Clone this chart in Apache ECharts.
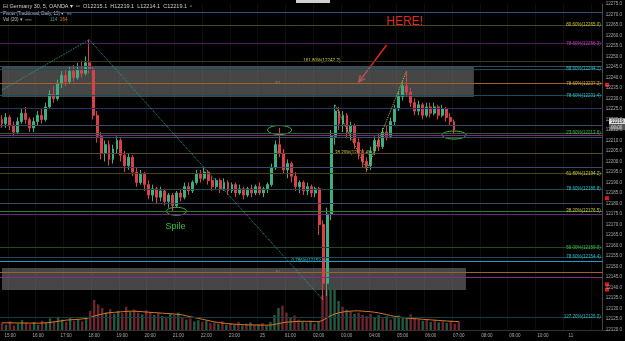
<!DOCTYPE html>
<html><head><meta charset="utf-8">
<script src="https://cdn.jsdelivr.net/npm/echarts@6/dist/echarts.min.js"></script>
<style>html,body{margin:0;padding:0;background:#000;}#c{width:625px;height:341px;}</style>
</head><body><div id="c"></div>
<script>
const opens =[12220,12218,12221,12217,12214,12219,12223,12220,12216,12219,12222,12220,12226,12232,12230,12237,12241,12238,12243,12240,12244,12242,12247,12244,12222,12212,12204,12208,12201,12206,12210,12203,12198,12202,12195,12190,12194,12189,12184,12187,12183,12186,12181,12184,12179,12185,12183,12188,12186,12190,12194,12192,12195,12191,12188,12191,12187,12190,12186,12189,12185,12187,12184,12187,12185,12188,12185,12187,12189,12197,12208,12204,12196,12199,12193,12188,12190,12186,12188,12185,12187,12170,12142,12175,12212,12224,12218,12222,12214,12217,12209,12204,12200,12198,12205,12210,12207,12214,12212,12219,12225,12231,12236,12233,12228,12224,12227,12222,12226,12223,12226,12222,12225,12221,12219];
const closes=[12218,12221,12217,12214,12219,12223,12220,12216,12219,12222,12220,12226,12232,12230,12237,12241,12238,12243,12240,12244,12242,12247,12244,12222,12212,12204,12208,12201,12206,12210,12203,12198,12202,12195,12190,12194,12189,12184,12187,12183,12186,12181,12184,12179,12185,12183,12188,12186,12190,12194,12192,12195,12191,12188,12191,12187,12190,12186,12189,12185,12187,12184,12187,12185,12188,12185,12187,12189,12197,12208,12204,12196,12199,12193,12188,12190,12186,12188,12185,12187,12170,12142,12175,12212,12224,12218,12222,12214,12217,12209,12204,12200,12198,12205,12210,12207,12214,12212,12219,12225,12231,12236,12233,12228,12224,12227,12222,12226,12223,12226,12222,12225,12221,12219,12215];
const lows  =[12216,12216,12215,12212,12213,12218,12218,12214,12214,12217,12218,12219,12225,12228,12229,12235,12236,12237,12238,12239,12240,12241,12242,12220,12209,12201,12200,12198,12199,12204,12200,12195,12196,12193,12188,12189,12186,12182,12181,12180,12181,12179,12178,12176,12178,12181,12182,12184,12185,12189,12190,12191,12189,12186,12187,12185,12186,12184,12185,12183,12184,12182,12183,12183,12184,12184,12183,12185,12188,12196,12202,12194,12192,12190,12186,12185,12184,12184,12183,12183,12165,12134,12136,12172,12208,12215,12214,12211,12210,12206,12201,12197,12195,12196,12203,12205,12206,12210,12211,12217,12224,12229,12231,12226,12222,12222,12220,12221,12221,12222,12220,12221,12219,12217,12213];
const highs =[12222,12223,12222,12219,12221,12225,12226,12221,12221,12224,12225,12228,12234,12236,12239,12243,12244,12245,12246,12247,12248,12250,12258,12245,12224,12214,12210,12210,12208,12212,12211,12205,12204,12203,12197,12196,12195,12191,12189,12188,12188,12187,12185,12185,12186,12187,12190,12190,12191,12196,12196,12197,12196,12193,12192,12192,12192,12191,12190,12190,12189,12188,12188,12189,12189,12190,12188,12190,12199,12210,12216,12206,12201,12200,12195,12191,12191,12190,12189,12188,12188,12172,12178,12215,12227,12226,12224,12223,12219,12218,12211,12206,12202,12207,12212,12213,12216,12217,12221,12227,12233,12238,12243,12235,12230,12229,12228,12228,12228,12228,12227,12227,12226,12223,12220];
const volumes=[120,90,150,80,110,170,130,100,140,90,160,120,200,150,230,180,140,210,160,190,150,230,330,520,440,380,300,360,280,330,290,400,320,350,300,270,340,310,260,290,240,230,280,260,300,210,180,200,150,170,140,160,120,130,110,150,90,120,100,140,80,110,130,90,100,120,80,140,260,380,420,300,220,250,180,150,130,160,110,140,600,950,800,700,500,400,350,320,280,300,260,240,280,220,260,200,240,180,210,250,230,200,270,220,180,160,190,140,170,130,150,120,160,110,140];
const volumeMA=[125,124,123,122,121,120,120,119,118,118,120,125,130,140,150,160,170,175,180,185,190,200,215,240,260,275,290,300,305,310,315,320,325,325,320,315,310,305,300,295,290,285,280,275,270,260,245,230,215,200,185,170,155,140,130,120,112,105,100,95,92,90,88,86,85,84,84,85,95,110,125,135,140,145,148,150,150,148,145,142,165,205,245,275,295,310,320,325,330,330,325,320,315,305,295,280,265,250,235,225,215,205,200,195,190,185,180,175,170,165,160,155,150,148,145];
const tickLabels=['15:00','16:00','17:00','18:00','19:00','20:00','21:00','22:00','23:00','25','01:00','02:00','03:00','04:00','05:00','06:00','07:00','08:00','09:00','10:00','11'];
const levelPrices=[12270.9,12265.0,12256.3,12247.7,12245.2,12244.1,12237.2,12231.4,12225.5,12217.4,12213.6,12212.6,12211.7,12204.0,12197.4,12194.2,12186.8,12180.2,12176.5,12175.0,12159.0,12154.4,12152.5,12147.4,12145.0,12126.0];
const levelTexts=['','80.60%(12265.0)','78.60%(12256.3)','','','88.60%(12244.1)','78.60%(12237.2)','78.60%(12231.4)','','','23.60%(12213.6)','','','','','61.80%(12194.2)','78.60%(12186.8)','','38.20%(12176.5)','','50.00%(12159.0)','78.60%(12154.4)','','','','127.20%(12126.0)'];
const levelLine=['#34507e','#4a4a18','#4a1f5a','#3a3a16','#3a4a66','#1b4d52','#a0622a','#1b4d52','#23366a','#3a4a66','#2f5a2f','#7a2a7a','#3a4a66','#5a4a26','#3a4a66','#44441a','#1b4d52','#3a4a66','#2f7a2f','#6a2a7a','#1f4a26','#1b4d52','#1f9fd0','#a0622a','#8a2a8a','#163f44'];
const levelTextColor=['','#c8c83a','#c23fc2','','','#2fc0c8','#c8b040','#2fc0c8','','','#3fc23f','','','','','#c8c83a','#2fc0c8','','#c8c83a','','#3fc23f','#2fc0c8','','','','#2fc0c8'];

const nSlots=152;
const slots=[]; for(let i=0;i<nSlots;i++) slots.push(String(i));
const candleData=opens.map((o,i)=>[o,closes[i],lows[i],highs[i]]);
const volData=volumes.map((v,i)=>({value:v,itemStyle:{color:closes[i]>=opens[i]?'#245a44':'#6e2530'}}));

const chart=echarts.init(document.getElementById('c'),null,{renderer:'canvas'});
const tinyFont={fontFamily:'Liberation Sans, Arial, sans-serif',fontSize:4.5};
const levelMarks=levelPrices.map((p,k)=>({yAxis:p,lineStyle:{color:levelLine[k],width:1,type:'solid'},
  label:{show:!!levelTexts[k],formatter:levelTexts[k],position:'insideEnd',color:levelTextColor[k],distance:2,...tinyFont}}));
const option={
  backgroundColor:'#000',animation:false,
  grid:[{left:0,right:16,top:4,bottom:11.5},{left:0,right:16,top:272,bottom:11}],
  xAxis:[
    {type:'category',data:slots,gridIndex:0,boundaryGap:true,axisLine:{show:false},axisTick:{show:false},axisLabel:{show:false},
     splitLine:{show:true,interval:(i)=>i%7===2,lineStyle:{color:'#0e0e0e'}}},
    {type:'category',data:slots,gridIndex:1,boundaryGap:true,axisLine:{lineStyle:{color:'#333'}},axisTick:{show:false},
     axisLabel:{interval:(i)=>i%7===2 && Math.floor(i/7)<tickLabels.length,formatter:(v,i)=>tickLabels[Math.floor(i/7)]||'',color:'#aaa',margin:3,...tinyFont},splitLine:{show:false}}
  ],
  yAxis:[
    {type:'value',gridIndex:0,position:'right',min:12120,max:12275,interval:5,scale:true,
     axisLine:{show:true,lineStyle:{color:'#444'}},axisTick:{show:false},
     axisLabel:{color:'#aaa',margin:3,formatter:v=>v.toFixed(1),...tinyFont},splitLine:{show:false}},
    {type:'value',gridIndex:1,min:0,max:1000,show:false}
  ],
  series:[
    {type:'candlestick',xAxisIndex:0,yAxisIndex:0,data:candleData,barWidth:2.4,
     itemStyle:{color:'#3fae80',color0:'#d8404a',borderColor:'#3fae80',borderColor0:'#d8404a',borderWidth:1},
     markArea:{silent:true,itemStyle:{color:'rgba(128,128,128,0.55)'},data:[
        [{coord:[0,12245.2]},{coord:[119,12230.7]}],
        [{coord:[0,12149.3]},{coord:[117,12138.8]}]]},
     markLine:{silent:true,symbol:'none',animation:false,data:levelMarks.concat([
        [{coord:[0,12234],lineStyle:{color:'#2a9d9d',type:'dotted',width:1},label:{show:false}},{coord:[22,12258]}],
        [{coord:[22,12258],lineStyle:{color:'#2a9d9d',type:'dotted',width:1},label:{show:false}},{coord:[81,12134]}],
        [{coord:[84,12227],lineStyle:{color:'#b8c040',type:'dotted',width:1},label:{show:false}},{coord:[92,12196]}],
        [{coord:[92,12196],lineStyle:{color:'#b8c040',type:'dotted',width:1},label:{show:false}},{coord:[102,12243]}]
     ])}},
    {type:'bar',xAxisIndex:1,yAxisIndex:1,data:volData,barWidth:2.4,z:1},
    {type:'line',xAxisIndex:1,yAxisIndex:1,data:volumeMA,showSymbol:false,lineStyle:{color:'#d9782a',width:1},z:3}
  ]
};
chart.setOption(option);

const P=(i,p)=>chart.convertToPixel({gridIndex:0},[i,p]);
const g=[];
const txt=(x,y,s,color,size,extra)=>g.push({type:'text',x,y,style:Object.assign({text:s,fill:color,fontSize:size,fontFamily:'Liberation Sans, Arial, sans-serif'},extra||{})});
txt(3,3,'⊟ Germany 30, 5, OANDA ▾  ▫▫  O12215.1  H12219.1  L12214.1  C12219.1  ▫','#d0d0d0',5.5);
txt(3,11,'Pivots (Traditional, Daily, 15) ▾  ▫▫▫','#c0c0c0',4.5);
txt(3,17,'Vol (20) ▾  ▫▫▫▫','#c0c0c0',4.5);
txt(50,17,'114','#3fae80',4.5);txt(60,17,'264','#d9782a',4.5);
g.push({type:'rect',shape:{x:296,y:0,width:34,height:3},style:{fill:'#cfcfcf'}});
const ell=(i,p,rx,ry)=>{const q=P(i,p);g.push({type:'ellipse',shape:{cx:q[0],cy:q[1],rx,ry},style:{fill:'none',stroke:'#3cc03c',lineWidth:1}});};
ell(70,12215,12,4.5);ell(44,12176.3,10,4);ell(114,12212.6,12,4);
let q=P(44,12169.5);txt(q[0]-11,q[1]-4,'Spile','#3cc03c',9);
q=P(101,12266.5);txt(q[0]-16,q[1]-6,'HERE!','#e8241c',12);
const a1=P(97,12255.5),a2=P(90,12237.9);
g.push({type:'line',shape:{x1:a1[0],y1:a1[1],x2:a2[0],y2:a2[1]},style:{stroke:'#e8241c',lineWidth:1.5}});
const ang=Math.atan2(a2[1]-a1[1],a2[0]-a1[0]);
g.push({type:'polyline',shape:{points:[[a2[0]-7*Math.cos(ang-0.45),a2[1]-7*Math.sin(ang-0.45)],[a2[0],a2[1]],[a2[0]-7*Math.cos(ang+0.45),a2[1]-7*Math.sin(ang+0.45)]]},style:{stroke:'#e8241c',lineWidth:1.5,fill:'none'}});
q=P(75.5,12247.7);txt(q[0],q[1]-3,'161.80%(12247.7)','#c8c83a',4.5);
q=P(84,12204);txt(q[0],q[1]-3,'38.20%(12206.4)','#c8c83a',4.5);
q=P(72.5,12152.5);txt(q[0],q[1]-3,'0.786%(12152.5)','#2fc0c8',4.5);
q=P(69,12237.2);txt(q[0],q[1]-2,'R1','#a08060',4);
q=P(69,12204);txt(q[0],q[1]-2,'P','#c07030',4);
q=P(68.5,12147.4);txt(q[0],q[1]-2,'S1','#a08060',4);
q=P(0,12219.1);g.push({type:'rect',shape:{x:609,y:q[1]-3,width:16,height:6},style:{fill:'#e0e0e0'}});txt(611,q[1]-2.3,'12219.1','#000',4.5);
q=P(0,12216.3);g.push({type:'rect',shape:{x:609,y:q[1]-3,width:16,height:6},style:{fill:'#555'}});txt(611,q[1]-2.3,'00:00','#ddd',4.5);
[12236.5,12182.5,12141.5,12139].forEach(p=>{const r=P(0,p);g.push({type:'rect',shape:{x:605,y:r[1]-2,width:4,height:4},style:{fill:'#e01818'}});});
chart.setOption({graphic:g});
</script></body></html>
